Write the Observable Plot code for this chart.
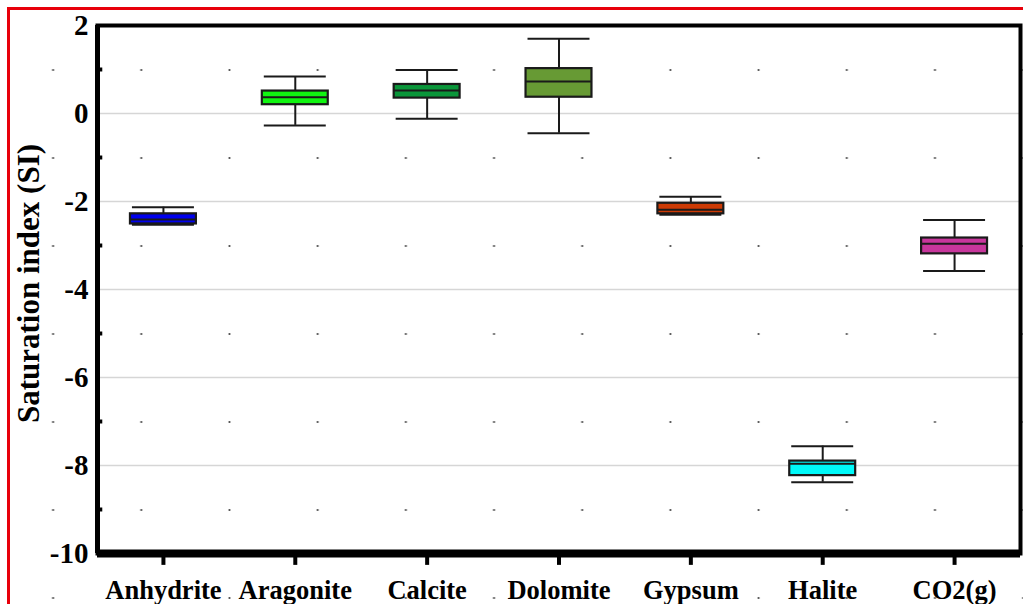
<!DOCTYPE html>
<html>
<head>
<meta charset="utf-8">
<script src="https://cdn.jsdelivr.net/npm/d3@7"></script>
<script src="https://cdn.jsdelivr.net/npm/@observablehq/plot@0.6"></script>
<style>
  html, body { margin: 0; padding: 0; }
  body {
    width: 1023px; height: 604px; position: relative; overflow: hidden;
    background-color: #fff;
    background-image: radial-gradient(circle, #555 0.7px, rgba(255,255,255,0) 1.4px);
    background-size: 88.2px 88px;
    background-position: 9px 26px;
  }
  #chart svg { background: transparent !important; }
  #border {
    position: absolute; left: 7px; top: 7px; width: 1040px; height: 596px;
    border: 3px solid #e8000b; pointer-events: none;
  }
</style>
</head>
<body>
<div id="chart"></div>
<div id="border"></div>
<script>
// Saturation index summary per mineral phase
const categories = ["Anhydrite", "Aragonite", "Calcite", "Dolomite", "Gypsum", "Halite", "CO2(g)"];
const whiskerLow  = [-2.53, -0.27, -0.12, -0.45, -2.30, -8.38, -3.58];
const q1          = [-2.51,  0.20,  0.35,  0.37, -2.28, -8.23, -3.19];
const median      = [-2.41,  0.37,  0.52,  0.73, -2.19, -7.96, -2.96];
const q3          = [-2.28,  0.51,  0.66,  1.02, -2.04, -7.90, -2.83];
const whiskerHigh = [-2.13,  0.84,  0.99,  1.70, -1.89, -7.56, -2.42];
const fills = ["#0000ee", "#11f511", "#0a963a", "#679a34", "#cc3a04", "#00fafa", "#c8369c"];

const yTicks = [2, 0, -2, -4, -6, -8, -10];
const gridTicks = [0, -2, -4, -6, -8];
const minorTicks = [1, -1, -3, -5, -7, -9];
const yTitle = "Saturation index (SI)";

const idx = categories.map((_, i) => i);
const boxHalf = 0.25;
const capHalf = 0.235;
const ink = "#1a1a1a";

const chart = Plot.plot({
  width: 1023,
  height: 604,
  marginTop: 25,
  marginBottom: 51,
  marginLeft: 97,
  marginRight: 3,
  x: {domain: [-0.5, 6.5], axis: null},
  y: {domain: [-10, 2], axis: null},
  color: {type: "identity"},
  style: {
    fontFamily: "'Liberation Serif', 'Times New Roman', serif",
    fontWeight: "bold",
    color: "#000",
    background: "transparent"
  },
  marks: [
    // horizontal grid
    Plot.ruleY(gridTicks, {stroke: "#d6d6d6", strokeWidth: 1.5}),
    // whisker stems
    Plot.ruleX(idx, {x: i => i, y1: i => whiskerLow[i], y2: i => whiskerHigh[i], stroke: ink, strokeWidth: 2}),
    // whisker caps
    Plot.ruleY(idx, {x1: i => i - capHalf, x2: i => i + capHalf, y: i => whiskerHigh[i], stroke: ink, strokeWidth: 2}),
    Plot.ruleY(idx, {x1: i => i - capHalf, x2: i => i + capHalf, y: i => whiskerLow[i], stroke: ink, strokeWidth: 2}),
    // boxes
    Plot.rect(idx, {x1: i => i - boxHalf, x2: i => i + boxHalf, y1: i => q1[i], y2: i => q3[i],
      fill: i => fills[i], stroke: ink, strokeWidth: 2.2}),
    // medians
    Plot.ruleY(idx, {x1: i => i - boxHalf, x2: i => i + boxHalf, y: i => median[i], stroke: ink, strokeWidth: 2}),
    // frame
    Plot.frame({stroke: "#000", strokeWidth: 4}),
    Plot.ruleY([-10], {stroke: "#000", strokeWidth: 8}),
    Plot.ruleX([-0.5], {stroke: "#000", strokeWidth: 5}),
    // minor ticks on the y axis
    Plot.ruleY(minorTicks, {x1: -0.5, x2: -0.46, stroke: "#000", strokeWidth: 4}),
    // x ticks
    Plot.ruleX(idx, {x: i => i, y1: -10, y2: -10.27, stroke: "#000", strokeWidth: 4}),
    // x labels
    Plot.text(idx, {x: i => i, y: -10, text: i => categories[i], lineAnchor: "top", dy: 27,
      fontSize: 26.5, fill: "#000"}),
    // y tick labels
    Plot.text(yTicks, {x: -0.5, y: d => d, text: d => String(d), textAnchor: "end", dx: -9,
      fontSize: 29, fill: "#000"}),
    // y title
    Plot.text([yTitle], {frameAnchor: "left", text: d => d, rotate: -90, textAnchor: "middle",
      dx: -68, dy: -6, fontSize: 31, fill: "#000"})
  ]
});
document.getElementById("chart").appendChild(chart);
</script>
</body>
</html>
